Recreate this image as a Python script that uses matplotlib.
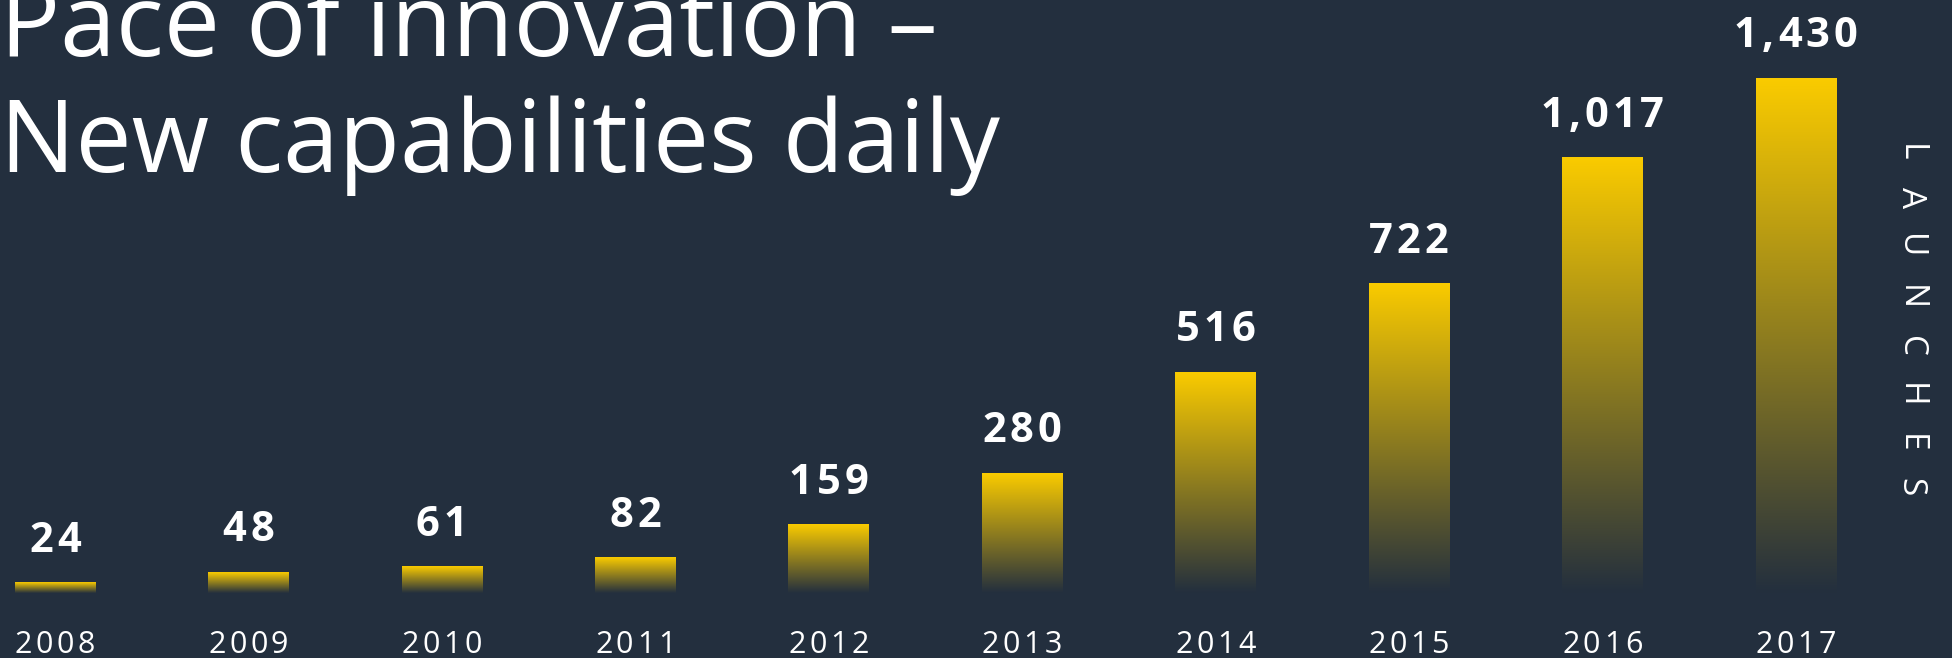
import numpy as np
import matplotlib
matplotlib.use("Agg")
import matplotlib.pyplot as plt
from matplotlib.colors import LinearSegmentedColormap
from matplotlib.font_manager import FontProperties
from matplotlib.transforms import IdentityTransform

# data
years = ["2008", "2009", "2010", "2011", "2012", "2013", "2014", "2015", "2016", "2017"]
launches = [24, 48, 61, 82, 159, 280, 516, 722, 1017, 1430]
title_lines = ["Pace of innovation \u2013", "New capabilities daily"]
side_label = "LAUNCHES"

BG = "#232F3E"
YELLOW = "#FACB00"
W, H = 1952, 658

fig = plt.figure(figsize=(W / 100, H / 100), dpi=100)
fig.patch.set_facecolor(BG)

# axes placed so the bar baseline sits near the bottom; tallest bar is cut by the top
ax = fig.add_axes([0, 65 / H, 1, (593 - 78) / H])
ax.set_facecolor(BG)
ax.axis("off")
ytop = 1203
xlim = (-0.284, 9.809)
bar_w = 0.414

cmap = LinearSegmentedColormap.from_list("fade", [BG, YELLOW])
grad = np.linspace(0, 1, 256).reshape(-1, 1)

for i, v in enumerate(launches):
    top = min(v, ytop)
    ax.imshow(grad, extent=(i - bar_w / 2, i + bar_w / 2, 0, top), origin="lower",
              aspect="auto", cmap=cmap, interpolation="bicubic", zorder=2)

ax.set_xlim(*xlim)
ax.set_ylim(0, ytop)

renderer = fig.canvas.get_renderer()


def tracked(x, y, s, track, prop, color="white", vertical=False):
    # draw a string char by char with extra letter spacing (pixel coords)
    ws = [renderer.get_text_width_height_descent(c, prop, ismath=False)[0] for c in s]
    total = sum(ws) + track * (len(s) - 1)
    if not vertical:
        x0 = x - total / 2
        for c, w in zip(s, ws):
            fig.text(x0, y, c, transform=IdentityTransform(), fontproperties=prop,
                     color=color, ha="left", va="baseline")
            x0 += w + track
    else:
        y0 = y + total / 2
        for c, w in zip(s, ws):
            fig.text(x, y0 - w / 2, c, transform=IdentityTransform(), fontproperties=prop,
                     color=color, ha="center", va="center", rotation=-90)
            y0 -= w + track


val_font = FontProperties(family=["Open Sans", "DejaVu Sans"], weight="bold", size=30)
year_font = FontProperties(family=["Open Sans", "DejaVu Sans"], size=22)
side_font = FontProperties(family=["Open Sans", "DejaVu Sans"], size=24)

for i, (yr, v) in enumerate(zip(years, launches)):
    px, py = ax.transData.transform((i, min(v, ytop)))
    tracked(px, py + 31, f"{v:,}", 4, val_font)
    bx, _ = ax.transData.transform((i, 0))
    tracked(bx, 5, yr, 3.5, year_font)

tracked(1910, H - 320, side_label, 26, side_font, vertical=True)

title_font = FontProperties(family=["Open Sans", "DejaVu Sans"], size=72)
fig.text(0, H - 56, title_lines[0], transform=IdentityTransform(), fontproperties=title_font,
         color="white", ha="left", va="baseline")
fig.text(0, H - 172, title_lines[1], transform=IdentityTransform(), fontproperties=title_font,
         color="white", ha="left", va="baseline")

fig.savefig("out.png", dpi=100, facecolor=BG)
